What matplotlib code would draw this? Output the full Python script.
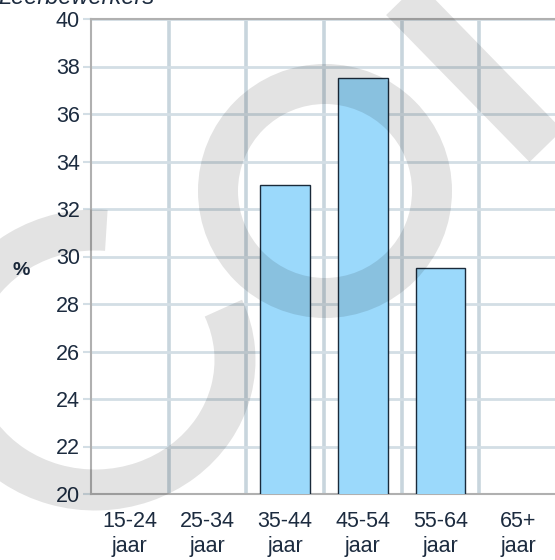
import matplotlib
matplotlib.use("Agg")
import matplotlib.pyplot as plt
import numpy as np
from matplotlib.patches import Arc, Ellipse
from matplotlib.lines import Line2D

# ---- data ----
categories = ["15-24\njaar", "25-34\njaar", "35-44\njaar", "45-54\njaar", "55-64\njaar", "65+\njaar"]
values = [np.nan, np.nan, 33.0, 37.5, 29.5, np.nan]
yticks = [20, 22, 24, 26, 28, 30, 32, 34, 36, 38, 40]
title = "Leerbewerkers"
ylabel = "%"

TEXT = "#1c2b3f"
BAR = "#9bd9fb"
GRID_H = "#d3dee5"
GRID_V = "#c8d5dd"
AXIS = "#b0b0b0"

plt.rcParams["font.family"] = ["Liberation Sans", "DejaVu Sans"]

W, H = 555, 560
fig = plt.figure(figsize=(W / 100, H / 100), dpi=100)
ax = fig.add_axes([91 / W, (H - 494) / H, 466 / W, (494 - 19) / H])

x = np.arange(len(categories))
ax.bar(x, values, width=0.64, color=BAR, edgecolor="#1a2a3a", linewidth=1.0, zorder=3)

ax.set_xlim(-0.5, len(categories) - 0.5)
ax.set_ylim(20, 40)
ax.set_yticks(yticks)
ax.set_yticklabels([str(t) for t in yticks])
ax.set_xticks(x)
ax.set_xticklabels(categories, linespacing=1.3)

# grid
ax.set_xticks(np.arange(0.5, len(categories) - 0.5, 1.0), minor=True)
ax.grid(axis="y", which="major", color=GRID_H, linewidth=2.0, zorder=0)
ax.grid(axis="x", which="minor", color=GRID_V, linewidth=2.6, zorder=0)
ax.grid(axis="x", which="major", visible=False)
ax.set_axisbelow(True)

ax.tick_params(axis="y", length=6, width=1.5, color=GRID_H, pad=2, labelsize=15.5, labelcolor=TEXT)
ax.tick_params(axis="x", which="major", length=0, pad=12, labelsize=15.5, labelcolor=TEXT)
ax.tick_params(axis="x", which="minor", length=0)

for s in ["left", "bottom", "top"]:
    ax.spines[s].set_color(AXIS)
    ax.spines[s].set_linewidth(1.5)
ax.spines["right"].set_visible(False)

fig.text(-0.003, (H - 4) / H, title, fontsize=17, style="italic", color=TEXT,
         ha="left", va="baseline")
fig.text(21 / W, (H - 271) / H, ylabel, fontsize=14, fontweight="bold", color=TEXT,
         ha="center", va="center")

# ---- translucent watermark overlay ----
ov = fig.add_axes([0, 0, 1, 1], zorder=10)
ov.set_xlim(0, W)
ov.set_ylim(H, 0)
ov.axis("off")
ov.patch.set_alpha(0)
px = 72 / 100.0
wm = dict(color="black", alpha=0.11)
ov.add_patch(Ellipse((325, 191), 214, 214, fill=False, linewidth=40 * px, **wm))
ov.add_patch(Arc((95, 360), 280, 260, theta1=-22, theta2=275, linewidth=41 * px,
                 capstyle="butt", **wm))
ov.add_line(Line2D([384, 546], [-20, 146], linewidth=46 * px, solid_capstyle="butt", **wm))

fig.savefig("out.png", dpi=100)
